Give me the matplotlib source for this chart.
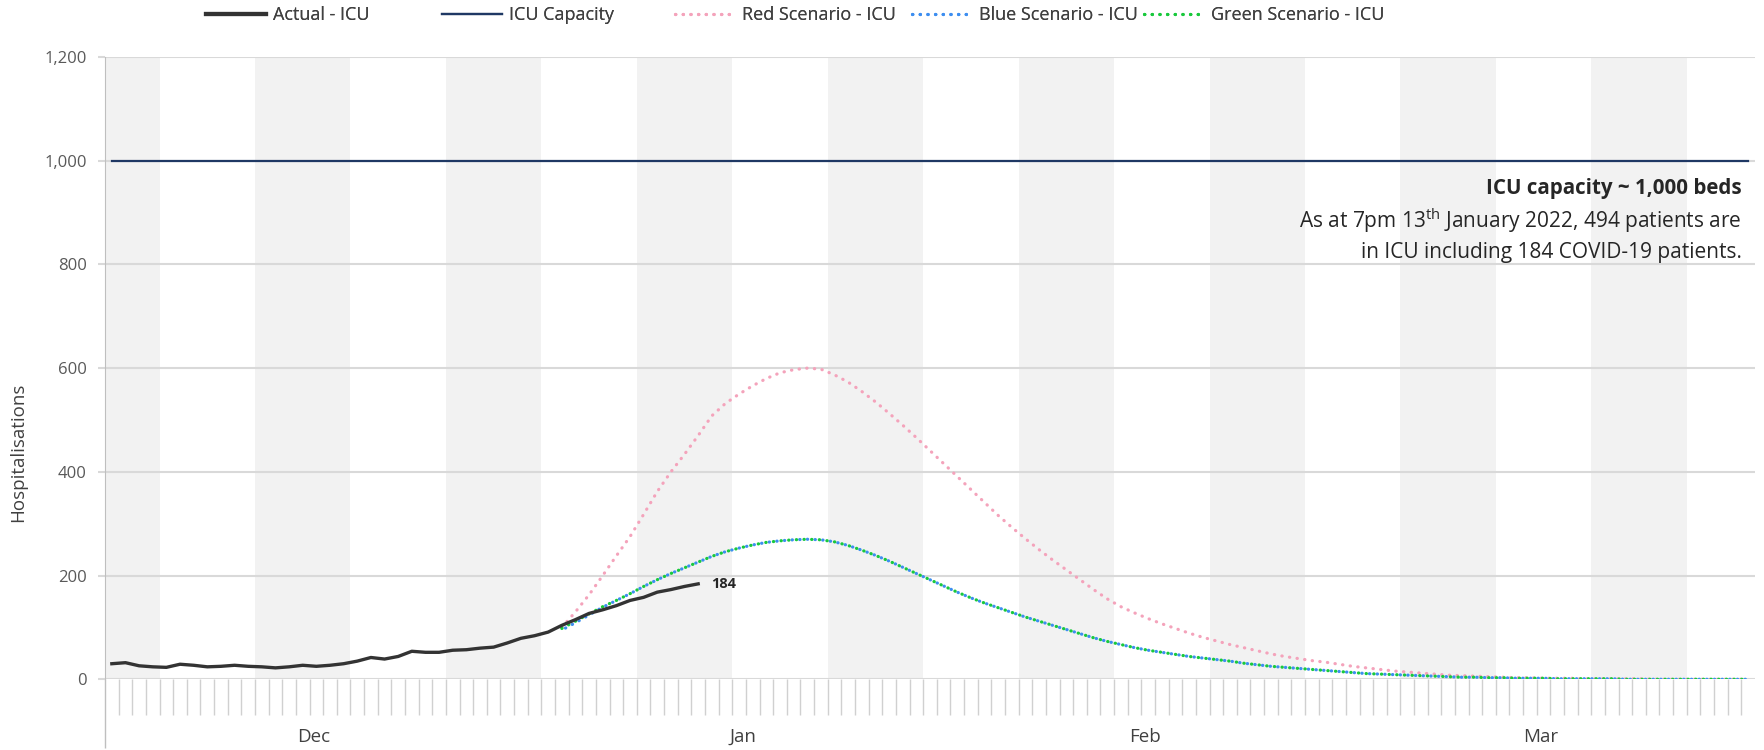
import numpy as np
import pandas as pd
import matplotlib
matplotlib.use("Agg")
import matplotlib.pyplot as plt
from matplotlib.lines import Line2D
from matplotlib.ticker import FuncFormatter

plt.rcParams["font.family"] = ["Open Sans", "DejaVu Sans"]
plt.rcParams["mathtext.fontset"] = "custom"
plt.rcParams["mathtext.rm"] = "Open Sans"

# Daily axis, 30 Nov 2021 - 30 Mar 2022
dates = pd.date_range("2021-11-30", "2022-03-30", freq="D")
x = np.arange(len(dates))
month_names = ["Dec", "Jan", "Feb", "Mar"]

# Actual ICU occupancy (30 Nov - 12 Jan)
actual_icu = [30, 32, 26, 24, 23, 29, 27, 24, 25, 27,
              25, 24, 22, 24, 27, 25, 27, 30, 35, 42,
              39, 44, 54, 52, 52, 56, 57, 60, 62, 70,
              79, 84, 91, 104, 115, 127, 134, 142, 152, 158,
              168, 173, 179, 184]

icu_capacity = 1000

# Scenarios start 2 Jan
scenario_start = 33
red_icu = [100, 130, 163, 200, 238, 275, 318, 362, 400, 434,
           470, 508, 532, 550, 566, 580, 591, 597, 600, 598,
           587, 573, 555, 535, 513, 490, 466, 441, 416, 391,
           366, 341, 316, 293, 271, 250, 230, 211, 192, 173,
           155, 140, 128, 117, 107, 98, 89, 81, 74, 67,
           61, 55, 49, 44, 40, 36, 33, 29, 25, 22,
           19, 16, 14, 12, 10, 8, 7, 6, 5, 4,
           3, 3, 2, 2, 2, 1, 1, 1, 1, 1,
           0, 0, 0, 0, 0, 0, 0, 0]
green_icu = [98, 112, 126, 140, 152, 165, 179, 192, 204, 215,
             226, 237, 246, 253, 259, 264, 267, 269, 270, 269,
             265, 258, 249, 239, 228, 216, 204, 192, 180, 168,
             157, 147, 138, 129, 120, 112, 104, 96, 88, 80,
             73, 67, 61, 56, 52, 48, 44, 41, 38, 35,
             31, 28, 25, 23, 21, 19, 17, 15, 13, 11,
             10, 9, 8, 7, 6, 5, 4, 4, 3, 3,
             2, 2, 2, 1, 1, 1, 1, 1, 0, 0,
             0, 0, 0, 0, 0, 0, 0, 0]
blue_icu = [95, 109, 124, 139, 152, 165, 179, 192, 204, 215,
            226, 237, 246, 253, 259, 264, 267, 269, 270, 269,
            265, 258, 249, 239, 228, 216, 204, 192, 180, 168,
            157, 147, 138, 129, 120, 112, 104, 96, 88, 80,
            73, 67, 61, 56, 52, 48, 44, 41, 38, 35,
            31, 28, 25, 23, 21, 19, 17, 15, 13, 11,
            10, 9, 8, 7, 6, 5, 4, 4, 3, 3,
            2, 2, 2, 1, 1, 1, 1, 1, 0, 0,
            0, 0, 0, 0, 0, 0, 0, 0]

c_actual = "#333333"
c_cap = "#1f3864"
c_red = "#f4a3bb"
c_blue = "#3d8ef0"
c_green = "#19c93c"
dot = (0, (0.1, 2.3))

fig = plt.figure(figsize=(17.65, 7.5), dpi=100)
ax = fig.add_axes([0.0595, 0.0943, 0.9348, 0.8297])

# alternating weekly shading (weeks Sat-Fri)
week = (dates - pd.Timestamp("2021-11-27")).days // 7
for wk in np.unique(week):
    if wk % 2 == 0:
        idx = x[week == wk]
        ax.axvspan(idx.min() - 0.5, idx.max() + 0.5, color="#f2f2f2", lw=0, zorder=0)

x_sc = x[scenario_start:scenario_start + len(red_icu)]
ax.plot(x, np.full(len(x), icu_capacity), color=c_cap, lw=1.6, zorder=3)
ax.plot(x_sc, red_icu, color=c_red, lw=2.3, linestyle=dot, dash_capstyle="round", zorder=3)
ax.plot(x_sc, blue_icu, color=c_blue, lw=2.3, linestyle=(1.1, (0.1, 2.3)), dash_capstyle="round", zorder=3)
ax.plot(x_sc, green_icu, color=c_green, lw=2.3, linestyle=dot, dash_capstyle="round", zorder=4)
ax.plot(x[:len(actual_icu)], actual_icu, color=c_actual, lw=2.4, solid_joinstyle="round", zorder=5)
ax.annotate(str(actual_icu[-1]), (x[len(actual_icu) - 1], actual_icu[-1]),
            xytext=(9, 0), textcoords="offset points", va="center", ha="left",
            fontsize=10.5, fontweight="bold", color="#262626")

ax.set_xlim(-0.5, len(x) - 0.5)
ax.set_ylim(0, 1200)
ax.set_yticks(range(0, 1201, 200))
ax.yaxis.set_major_formatter(FuncFormatter(lambda v, p: f"{v:,.0f}"))
ax.yaxis.grid(True, color="#d9d9d9", lw=1.5)
ax.set_axisbelow(True)
ax.tick_params(axis="y", length=5, width=1.5, color="#d9d9d9", labelcolor="#595959",
               labelsize=12, pad=8)

# daily ticks and month separators (the lone 30 Nov sits under "Dec")
month_start = [i for i in x if dates[i].day == 1 and dates[i].month != 12]
bounds = [-0.5] + [i - 0.5 for i in month_start] + [len(x) - 0.5]
ax.set_xticks(x[:-1] + 0.5)
ax.set_xticks(bounds[:-1], minor=True)
ax.tick_params(axis="x", which="major", length=26, width=1, color="#d0d0d0", labelbottom=False)
ax.tick_params(axis="x", which="minor", length=50, width=1, color="#bfbfbf", labelbottom=False)
for name, lo, hi in zip(month_names, bounds[:-1], bounds[1:]):
    ax.text((lo + hi) / 2 - 0.7, -0.093, name, transform=ax.get_xaxis_transform(),
            ha="center", va="center", fontsize=13.5, color="#404040")

for s in ["top", "right", "bottom"]:
    ax.spines[s].set_visible(False)
ax.spines["left"].set_color("#bfbfbf")

ax.set_ylabel("Hospitalisations", fontsize=13.5, color="#404040")
ax.yaxis.set_label_coords(-0.047, 0.365)

ax.text(0.992, 0.788, "ICU capacity ~ 1,000 beds", transform=ax.transAxes,
        ha="right", va="center", fontsize=14.8, fontweight="bold", color="#262626")
ax.text(0.992, 0.737, r"As at 7pm 13$^{\mathrm{th}}$ January 2022, 494 patients are",
        transform=ax.transAxes, ha="right", va="center", fontsize=15, color="#262626")
ax.text(0.992, 0.686, "in ICU including 184 COVID-19 patients.", transform=ax.transAxes,
        ha="right", va="center", fontsize=15, color="#262626")

# legend entries spaced evenly across the top
handles = [
    Line2D([], [], color=c_actual, lw=3),
    Line2D([], [], color=c_cap, lw=1.6),
    Line2D([], [], color=c_red, lw=2.3, linestyle=dot, dash_capstyle="round"),
    Line2D([], [], color=c_blue, lw=2.3, linestyle=dot, dash_capstyle="round"),
    Line2D([], [], color=c_green, lw=2.3, linestyle=dot, dash_capstyle="round"),
]
labels = ["Actual - ICU", "ICU Capacity", "Red Scenario - ICU",
          "Blue Scenario - ICU", "Green Scenario - ICU"]
legend_x = [0.1167, 0.2504, 0.3824, 0.5167, 0.6482]
for h, lab, lx in zip(handles, labels, legend_x):
    leg = fig.legend([h], [lab], loc="center left", bbox_to_anchor=(lx, 0.98),
                     frameon=False, fontsize=13, handlelength=3.35, handletextpad=0.38,
                     borderpad=0, borderaxespad=0)
    for t in leg.get_texts():
        t.set_color("#404040")
    fig.add_artist(leg)

fig.savefig("out.png", dpi=100)
